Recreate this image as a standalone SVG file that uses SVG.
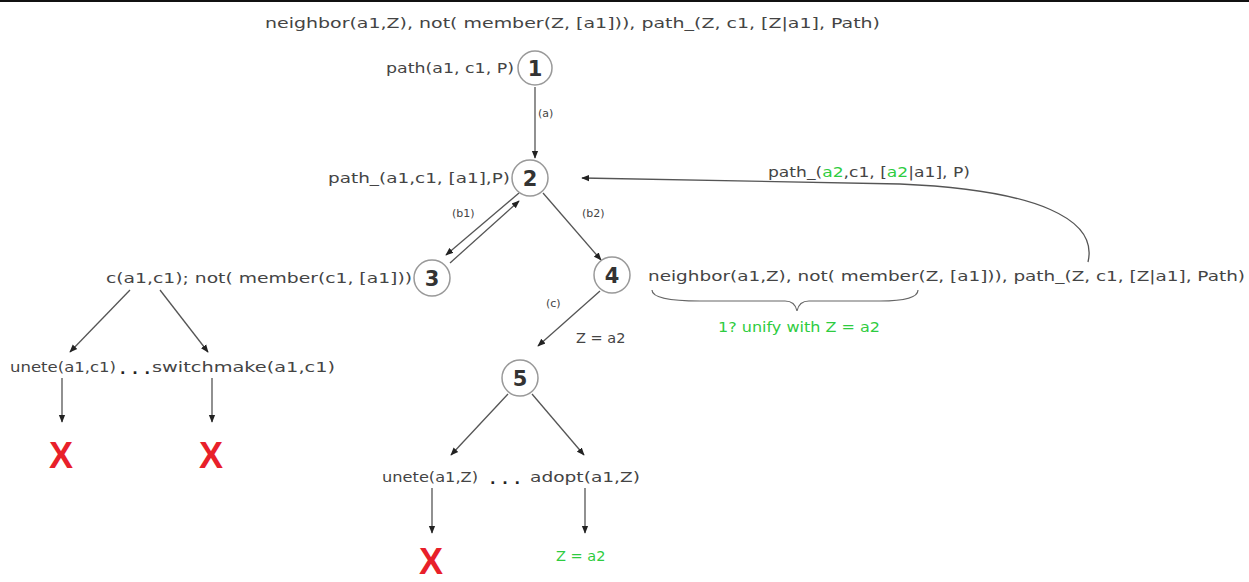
<svg xmlns="http://www.w3.org/2000/svg" width="1249" height="582" viewBox="0 0 1249 582">
<defs>
<marker id="ah" viewBox="0 0 10 10" refX="9" refY="5" markerWidth="8" markerHeight="8" orient="auto-start-reverse" markerUnits="userSpaceOnUse">
<path d="M0,1 L10,5 L0,9 z" fill="#222"/>
</marker>
<style>
text{font-family:"DejaVu Sans","Liberation Sans",sans-serif;fill:#444;font-size:14.5px}
.lab{font-size:11px}
.num{font-size:21px;font-weight:bold;fill:#333;text-anchor:middle}
.nd{fill:#fff;stroke:#999;stroke-width:1.5}
.e{stroke:#555;stroke-width:1.3;fill:none;marker-end:url(#ah)}
.g{fill:#2ecc40}
.x{fill:#e8202a;font-size:36px;font-weight:bold;font-family:"Liberation Sans",sans-serif;text-anchor:middle}
.dots{font-weight:bold;fill:#222}
</style>
</defs>
<rect width="1249" height="582" fill="#fff"/>
<line x1="0" y1="1" x2="1249" y2="1" stroke="#111" stroke-width="2"/>
<text x="265" y="28" textLength="615" lengthAdjust="spacingAndGlyphs">neighbor(a1,Z), not( member(Z, [a1])), path_(Z, c1, [Z|a1], Path)</text>
<g id="connectors">
<line class="e" x1="535" y1="87" x2="535" y2="158"/>
<text class="lab" x="538" y="117">(a)</text>
<line class="e" x1="519" y1="193" x2="446" y2="255"/>
<line class="e" x1="450" y1="263" x2="519" y2="201"/>
<text class="lab" x="452" y="217">(b1)</text>
<line class="e" x1="543" y1="193" x2="601" y2="260"/>
<text class="lab" x="582" y="217">(b2)</text>
<path class="e" d="M1088,262 C1098,220 1040,190 900,184 L582,178"/>
<line class="e" x1="600" y1="291" x2="538" y2="346"/>
<text class="lab" x="546" y="307">(c)</text>
<text x="576" y="343">Z = a2</text>
<line class="e" x1="130" y1="290" x2="70" y2="352"/>
<line class="e" x1="160" y1="290" x2="208" y2="352"/>
<line class="e" x1="62" y1="378" x2="62" y2="422"/>
<line class="e" x1="212" y1="378" x2="212" y2="422"/>
<line class="e" x1="508" y1="394" x2="451" y2="455"/>
<line class="e" x1="532" y1="394" x2="584" y2="455"/>
<line class="e" x1="432" y1="488" x2="432" y2="533"/>
<line class="e" x1="585" y1="488" x2="585" y2="533"/>
<path d="M652,290 Q652,301 700,301 L785,301 Q795,301 797,311 Q799,301 809,301 L880,301 Q918,301 918,290" fill="none" stroke="#666" stroke-width="1.2"/>
</g>
<g id="n1">
<circle class="nd" cx="535" cy="68" r="17"/>
<text class="num" x="535" y="76">1</text>
<text x="386" y="73" textLength="128" lengthAdjust="spacingAndGlyphs">path(a1, c1, P)</text>
</g>
<g id="n2">
<circle class="nd" cx="530" cy="178" r="18"/>
<text class="num" x="530" y="186">2</text>
<text x="328" y="183" textLength="182" lengthAdjust="spacingAndGlyphs">path_(a1,c1, [a1],P)</text>
</g>
<g id="backlabel">
<text x="768" y="177" textLength="202" lengthAdjust="spacingAndGlyphs">path_(<tspan class="g">a2</tspan>,c1, [<tspan class="g">a2</tspan>|a1], P)</text>
</g>
<g id="n3">
<circle class="nd" cx="432" cy="278" r="18"/>
<text class="num" x="432" y="286">3</text>
<text x="106" y="283" textLength="306" lengthAdjust="spacingAndGlyphs">c(a1,c1); not( member(c1, [a1]))</text>
</g>
<g id="n4">
<circle class="nd" cx="612" cy="275" r="18"/>
<text class="num" x="612" y="283">4</text>
<text x="648" y="281" textLength="597" lengthAdjust="spacingAndGlyphs">neighbor(a1,Z), not( member(Z, [a1])), path_(Z, c1, [Z|a1], Path)</text>
<text class="g" x="718" y="332" textLength="162" lengthAdjust="spacingAndGlyphs">1? unify with Z = a2</text>
</g>
<g id="n5">
<circle class="nd" cx="520" cy="378" r="18"/>
<text class="num" x="520" y="386">5</text>
</g>
<g id="leaves-left">
<text x="10" y="372" textLength="106" lengthAdjust="spacingAndGlyphs">unete(a1,c1)</text>
<text class="dots" x="120" y="374" textLength="30">...</text>
<text x="152" y="372" textLength="183" lengthAdjust="spacingAndGlyphs">switchmake(a1,c1)</text>
<text class="x" x="61" y="468">X</text>
<text class="x" x="211" y="468">X</text>
</g>
<g id="leaves-bottom">
<text x="382" y="482" textLength="96" lengthAdjust="spacingAndGlyphs">unete(a1,Z)</text>
<text class="dots" x="490" y="484" textLength="30">...</text>
<text x="530" y="482" textLength="110" lengthAdjust="spacingAndGlyphs">adopt(a1,Z)</text>
<text class="x" x="431" y="574">X</text>
<text class="g" x="556" y="561">Z = a2</text>
</g>
</svg>
